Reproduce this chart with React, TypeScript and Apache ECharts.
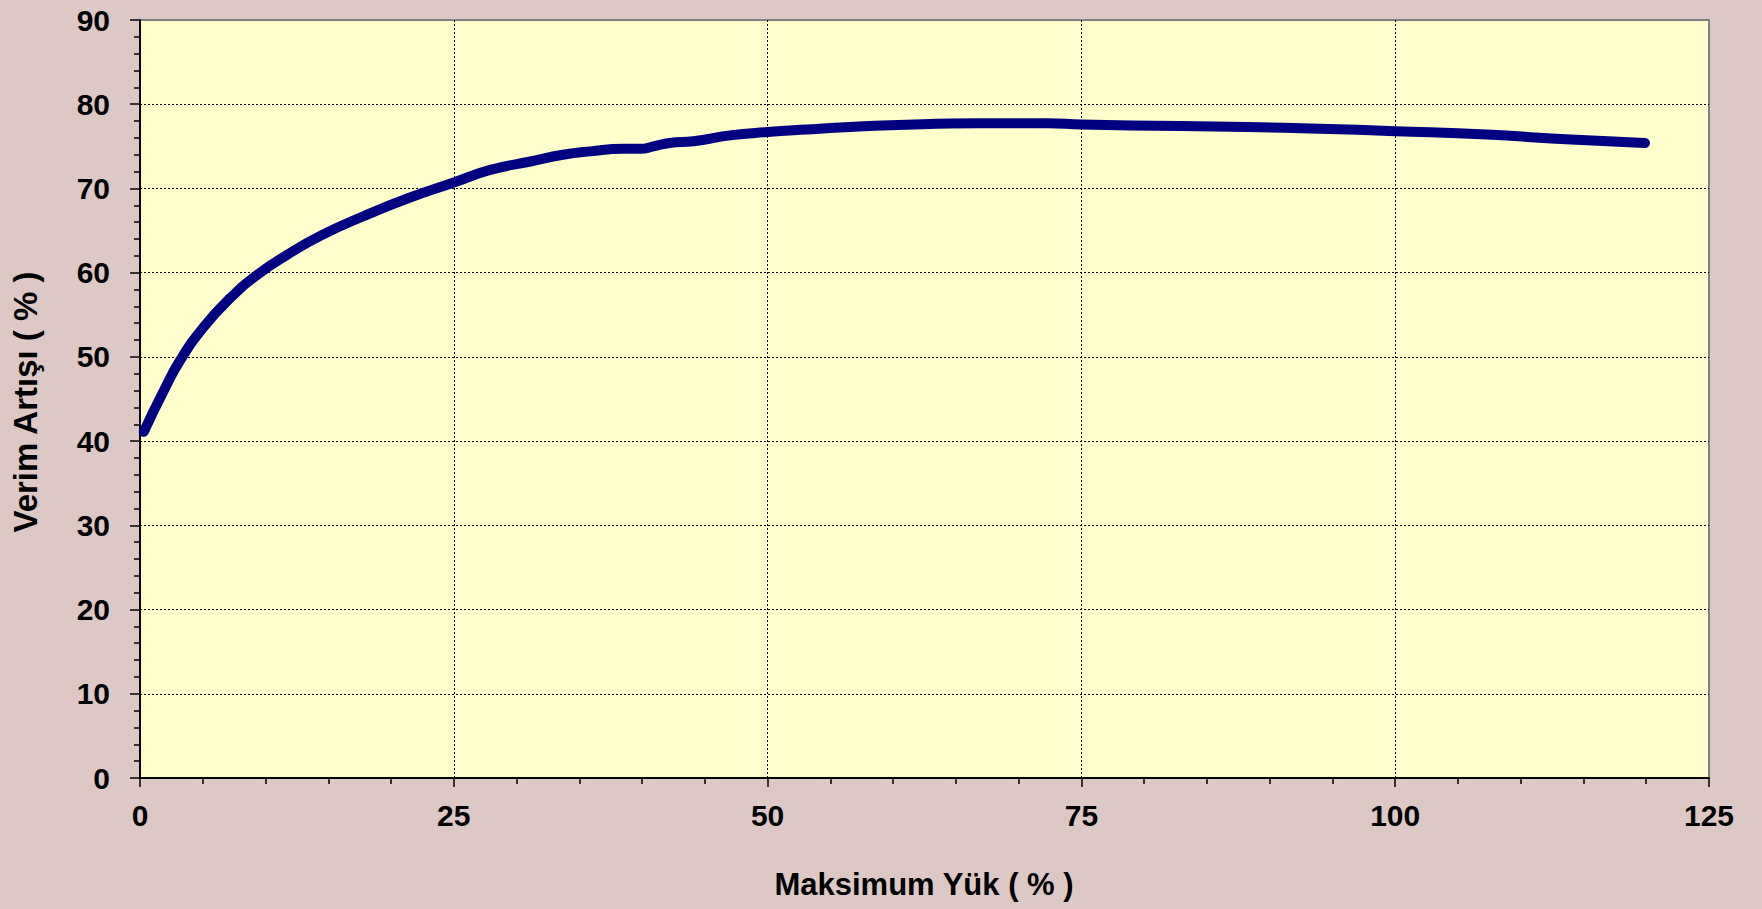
import React, { useEffect, useRef } from "react";
import * as echarts from "echarts";

// Load (% of maximum) and the matching efficiency gain (%)
const loadPct = [
  0.3, 1.9, 3.2, 5.1, 7.2, 9.3, 11.7, 14.4, 17.8, 21.3, 25.0, 27.9, 31.1, 33.7,
  35.9, 38.5, 39.9, 40.9, 42.2, 44.1, 47.0, 50.0, 53.1, 56.6, 59.8, 66.9, 72.3,
  75.0, 82.9, 88.2, 94.0, 100.0, 107.3, 114.0, 119.9,
];
const efficiencyGain = [
  41.1, 46.0, 49.6, 53.6, 57.0, 59.7, 62.1, 64.4, 66.7, 68.8, 70.7, 72.2, 73.2,
  74.0, 74.4, 74.7, 74.7, 75.0, 75.4, 75.6, 76.3, 76.7, 77.0, 77.3, 77.5, 77.75,
  77.75, 77.6, 77.4, 77.3, 77.1, 76.8, 76.4, 75.8, 75.4,
];

const xTicks = { min: 0, max: 125, step: 25 };
const yTicks = { min: 0, max: 90, step: 10 };

const xTitle = "Maksimum Yük ( % )";
const yTitle = "Verim Artışı ( % )";

const FONT = "'Liberation Sans', Arial, sans-serif";

export default function App() {
  const ref = useRef<HTMLDivElement>(null);

  useEffect(() => {
    document.body.style.margin = "0";
    const chart = echarts.init(ref.current!, null, { renderer: "svg" });
    const points = loadPct.map((x, i) => [x, efficiencyGain[i]]);

    const axisText = {
      color: "#000",
      fontFamily: FONT,
      fontWeight: "bold" as const,
      fontSize: 30,
    };
    const grid = {
      show: true,
      left: 140,
      right: 53,
      top: 20,
      bottom: 131,
      containLabel: false,
      outerBoundsMode: "none",
      backgroundColor: "#FFFFCC",
      borderColor: "#808080",
      borderWidth: 2,
    };

    chart.setOption({
      animation: false,
      backgroundColor: "#DDC8C6",
      grid,
      xAxis: {
        type: "value",
        min: xTicks.min,
        max: xTicks.max,
        interval: xTicks.step,
        axisLine: { show: true, onZero: false, lineStyle: { color: "#000", width: 2 } },
        axisTick: { show: true, inside: false, length: 9, lineStyle: { color: "#000", width: 1.5 } },
        minorTick: { show: true, splitNumber: 5, length: 6, lineStyle: { color: "#000", width: 1.5 } },
        axisLabel: { ...axisText, margin: 22 },
        splitLine: {
          show: true,
          showMinLine: false,
          showMaxLine: false,
          lineStyle: { color: "#000", width: 1, type: [2, 2] },
        },
      },
      yAxis: {
        type: "value",
        min: yTicks.min,
        max: yTicks.max,
        interval: yTicks.step,
        axisLine: { show: true, onZero: false, lineStyle: { color: "#000", width: 2 } },
        axisTick: { show: true, inside: false, length: 10, lineStyle: { color: "#000", width: 1.5 } },
        minorTick: { show: true, splitNumber: 5, length: 6, lineStyle: { color: "#000", width: 1.5 } },
        axisLabel: { ...axisText, margin: 30 },
        splitLine: {
          show: true,
          showMinLine: false,
          showMaxLine: false,
          lineStyle: { color: "#000", width: 1, type: [2, 2] },
        },
      },
      series: [
        {
          type: "line",
          data: points,
          smooth: 0.5,
          showSymbol: false,
          symbol: "none",
          lineStyle: { color: "#000080", width: 10, cap: "round", join: "round" },
        },
      ],
      graphic: [
        {
          type: "text",
          x: 924,
          y: 884,
          style: {
            text: xTitle,
            fill: "#000",
            font: `bold 31px ${FONT}`,
            align: "center",
            verticalAlign: "middle",
          },
        },
        {
          type: "text",
          x: 25,
          y: 402,
          rotation: Math.PI / 2,
          style: {
            text: yTitle,
            fill: "#000",
            font: `bold 33px ${FONT}`,
            align: "center",
            verticalAlign: "middle",
          },
        },
      ],
    });

    return () => chart.dispose();
  }, []);

  return (
    <div
      ref={ref}
      style={{ position: "absolute", left: 0, top: 0, width: 1762, height: 909 }}
    />
  );
}
